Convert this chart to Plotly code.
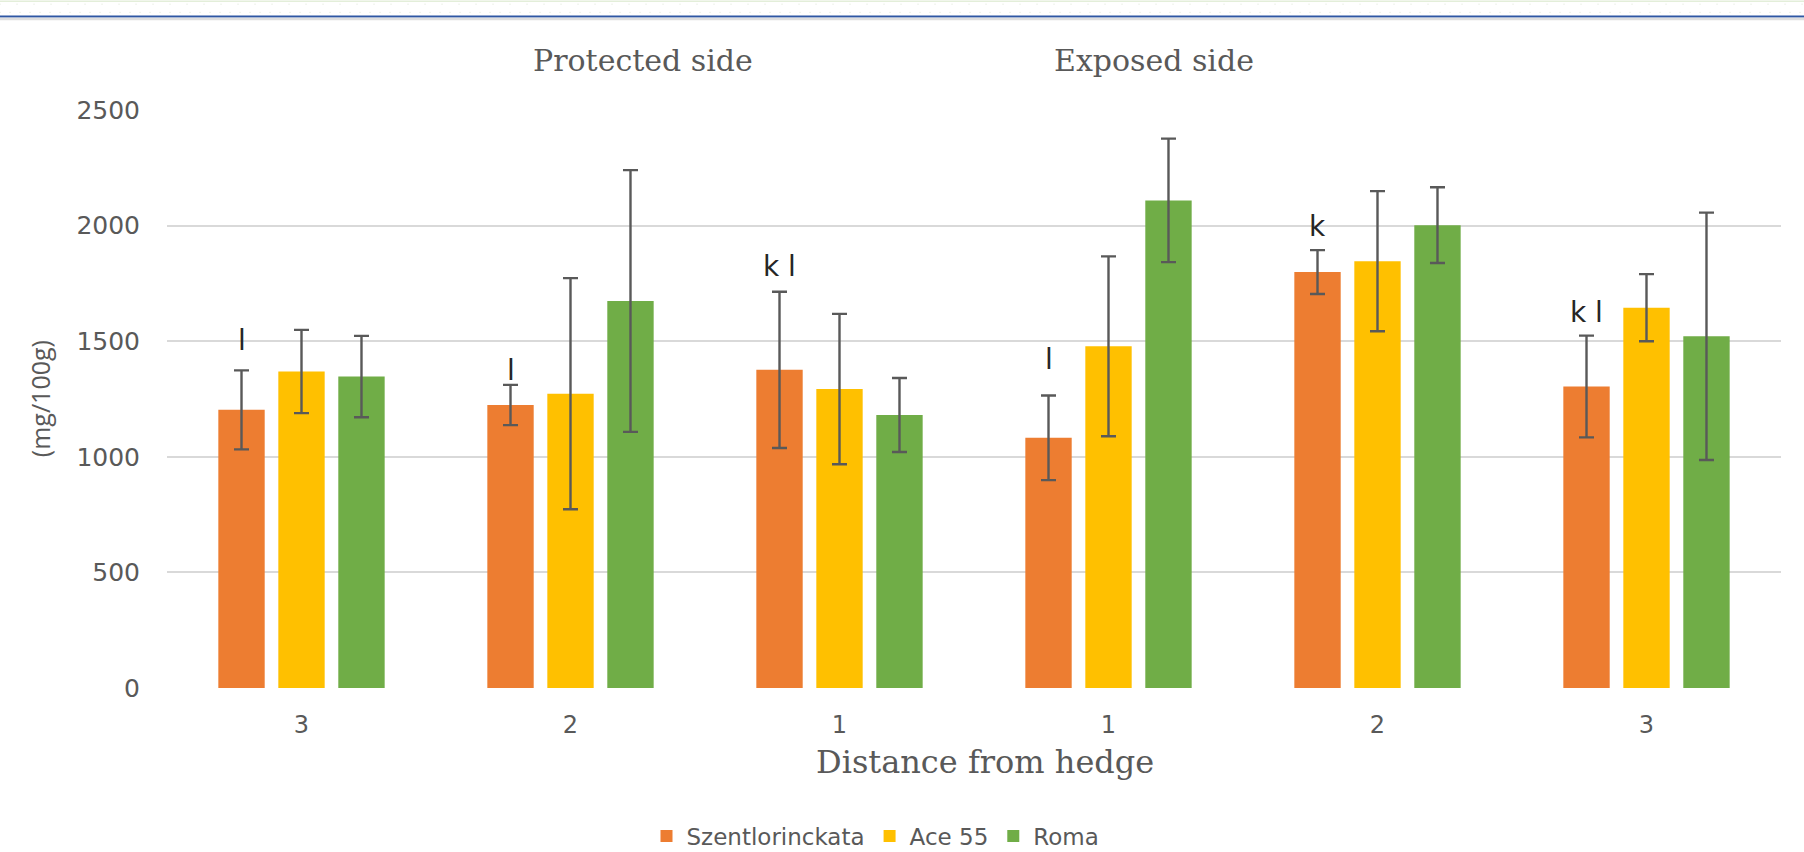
import plotly.graph_objects as go

# Distance categories along the hedge transect (protected side -> exposed side)
positions = [0, 1, 2, 3, 4, 5]
tick_labels = ["3", "2", "1", "1", "2", "3"]

# Mean content (mg/100g) and standard deviation per variety
szent = [1203, 1224, 1376, 1082, 1799, 1304]
szent_err = [171, 87, 338, 183, 95, 220]
ace = [1369, 1273, 1293, 1478, 1846, 1645]
ace_err = [180, 500, 325, 389, 303, 145]
roma = [1347, 1674, 1181, 2109, 2002, 1521]
roma_err = [176, 566, 160, 267, 164, 535]

# Significance letters above the Szentlorinckata bars
sig_letters = ["l", "l", "k l", "l", "k", "k l"]
sig_letter_y = [1503, 1373, 1821, 1421, 1994, 1626]

series = [
    ("Szentlorinckata", szent, szent_err, "#ED7D31"),
    ("Ace 55", ace, ace_err, "#FFC000"),
    ("Roma", roma, roma_err, "#70AD47"),
]

BARGAP = 0.331
BARGROUPGAP = 0.227
W, H = 1804, 852
L, R, T, B = 167.4, 23.2, 109.5, 163.5
PW, PH = W - L - R, H - T - B


def px(xpix):
    return (xpix - L) / PW


def py(ypix):
    return (H - B - ypix) / PH


fig = go.Figure()
for name, vals, errs, color in series:
    fig.add_trace(go.Bar(
        name=name, x=positions, y=vals,
        marker=dict(color=color, line=dict(width=0)),
        error_y=dict(type="data", array=errs, visible=True,
                     color="#595959", thickness=2.4, width=7.5),
    ))

slot = (1 - BARGAP) / 3
annotations = []
for pos, txt, yv in zip(positions, sig_letters, sig_letter_y):
    annotations.append(dict(
        x=pos - slot, y=yv, xref="x", yref="y", text=txt, showarrow=False,
        xanchor="center", yanchor="middle",
        font=dict(family="DejaVu Sans", size=28, color="#262626"),
    ))

serif = dict(family="DejaVu Serif", size=30, color="#595959")
annotations += [
    dict(x=px(643.5), y=py(60), xref="paper", yref="paper", text="Protected side",
         showarrow=False, xanchor="center", yanchor="middle", font=serif),
    dict(x=px(1154.5), y=py(60), xref="paper", yref="paper", text="Exposed side",
         showarrow=False, xanchor="center", yanchor="middle", font=serif),
    dict(x=px(985), y=py(763), xref="paper", yref="paper", text="Distance from hedge",
         showarrow=False, xanchor="center", yanchor="middle",
         font=dict(family="DejaVu Serif", size=32, color="#595959")),
    dict(x=px(40), y=py(398.6), xref="paper", yref="paper", text="(mg/100g)",
         showarrow=False, xanchor="center", yanchor="middle", textangle=-90,
         font=dict(family="Open Sans", size=25, color="#595959")),
]

# Page header rule above the chart
x_left, x_right = px(0), px(W)
shapes = [
    dict(type="line", xref="paper", yref="paper", x0=x_left, x1=x_right,
         y0=py(0.6), y1=py(0.6), line=dict(color="#e3eed9", width=1.5)),
    dict(type="line", xref="paper", yref="paper", x0=x_left, x1=x_right,
         y0=py(3.5), y1=py(3.5), line=dict(color="#dde5d6", width=1, dash="1px,16px")),
    dict(type="line", xref="paper", yref="paper", x0=x_left, x1=x_right,
         y0=py(11.7), y1=py(11.7), line=dict(color="#dde5d6", width=1, dash="1px,9px")),
    dict(type="line", xref="paper", yref="paper", x0=x_left, x1=x_right,
         y0=py(15.9), y1=py(15.9), line=dict(color="#2f57a3", width=2)),
    dict(type="line", xref="paper", yref="paper", x0=x_left, x1=x_right,
         y0=py(18.3), y1=py(18.3), line=dict(color="#dedede", width=2.5)),
]

fig.update_layout(
    width=W, height=H,
    margin=dict(l=L, r=R, t=T, b=B, pad=0, autoexpand=False),
    paper_bgcolor="white", plot_bgcolor="white",
    barmode="group", bargap=BARGAP, bargroupgap=BARGROUPGAP,
    font=dict(family="DejaVu Sans", color="#595959"),
    showlegend=True,
    legend=dict(orientation="h", xref="container", yref="container",
                x=875.5 / W, xanchor="center", y=(H - 836) / H, yanchor="middle",
                font=dict(family="DejaVu Sans", size=23, color="#595959"),
                traceorder="normal", itemclick=False),
    annotations=annotations,
    shapes=shapes,
)
fig.update_xaxes(
    range=[-0.5, 5.5], tickmode="array", tickvals=positions, ticktext=tick_labels,
    showgrid=False, zeroline=False, showline=False, ticks="",
    tickfont=dict(family="DejaVu Sans", size=24, color="#595959"),
    ticklabelstandoff=20,
)
fig.update_yaxes(
    range=[0, 2500], tickmode="array", tickvals=[0, 500, 1000, 1500, 2000, 2500],
    showgrid=True, gridcolor="#d9d9d9", gridwidth=1.6, zeroline=False, showline=False,
    ticks="", tickfont=dict(family="DejaVu Sans", size=25, color="#595959"),
    ticklabelstandoff=26,
)

fig.write_html("out.html", config={"displayModeBar": False})
